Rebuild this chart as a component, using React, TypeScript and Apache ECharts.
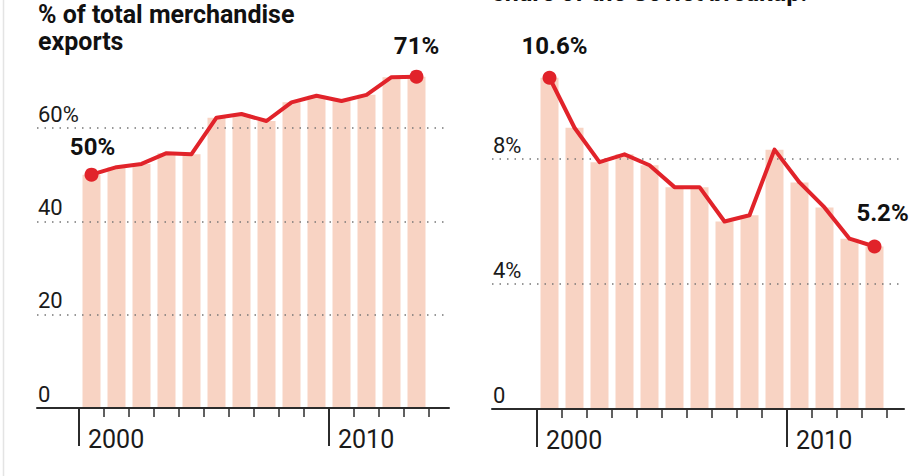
import React, { useEffect, useRef } from 'react';
import * as echarts from 'echarts';

// ---- data ----
const years = ['2000', '2001', '2002', '2003', '2004', '2005', '2006', '2007', '2008', '2009', '2010', '2011', '2012', '2013'];
const exportShare = [50, 51.6, 52.3, 54.6, 54.4, 62.2, 63, 61.5, 65.5, 66.9, 65.8, 67.1, 70.9, 71];
const rightShare = [10.6, 9.0, 7.9, 8.15, 7.8, 7.1, 7.1, 6.0, 6.2, 8.3, 7.25, 6.45, 5.45, 5.2];
const leftTickValues = [0, 20, 40, 60];
const leftTickLabels = ['0', '20', '40', '60%'];
const rightTickValues = [0, 4, 8];
const rightTickLabels = ['0', '4%', '8%'];
const majorYears = ['2000', '2010'];
const titleLines = ['% of total merchandise', 'exports'];
const rightTitleTail = 'share of the Soviet breakup.';

// ---- styles ----
const RED = '#e1232a';
const BAR = '#f8d3c3';
const INK = '#1a1a1a';
const AXIS = '#2b2b2b';
const FONT = 'Roboto, "Liberation Sans", sans-serif';

type PanelCfg = {
  values: number[];
  tickValues: number[];
  tickLabels: string[];
  decimals: number;
  frameLeft: number;
  frameRight: number;
  bandLeft: number;
  band: number;
  axisY: number;
  topTickY: number;
  barsMax: number;
  firstLabel: { d: number; dx: number };
  lastLabel: { d: number; dx: number };
};

const panels: PanelCfg[] = [
  {
    values: exportShare,
    tickValues: leftTickValues,
    tickLabels: leftTickLabels,
    decimals: 0,
    frameLeft: 37,
    frameRight: 449,
    bandLeft: 79,
    band: 25,
    axisY: 408,
    topTickY: 128,
    barsMax: 75,
    firstLabel: { d: 7, dx: 1 },
    lastLabel: { d: 10, dx: 0 },
  },
  {
    values: rightShare,
    tickValues: rightTickValues,
    tickLabels: rightTickLabels,
    decimals: 1,
    frameLeft: 492,
    frameRight: 904,
    bandLeft: 537,
    band: 25,
    axisY: 409,
    topTickY: 159,
    barsMax: 12,
    firstLabel: { d: 11, dx: 5 },
    lastLabel: { d: 13, dx: 8 },
  },
];

function buildOption() {
  const grid: any[] = [];
  const xAxis: any[] = [];
  const yAxis: any[] = [];
  const series: any[] = [];
  const majorIdx = majorYears.map((y) => years.indexOf(y));

  panels.forEach((p) => {
    const n = years.length;
    const topTick = p.tickValues[p.tickValues.length - 1];
    const pxPerUnit = (p.axisY - p.topTickY) / topTick;
    const gA = grid.length;
    grid.push({
      left: p.bandLeft,
      width: p.band * n,
      top: p.axisY - p.barsMax * pxPerUnit,
      height: p.barsMax * pxPerUnit,
      containLabel: false,
      outerBoundsMode: 'none',
    });
    const gB = grid.length;
    grid.push({
      left: p.frameLeft,
      width: p.frameRight - p.frameLeft,
      top: p.topTickY,
      height: p.axisY - p.topTickY,
      containLabel: false,
      outerBoundsMode: 'none',
    });

    const xCat = xAxis.length;
    xAxis.push({
      type: 'category',
      gridIndex: gA,
      position: 'bottom',
      data: years,
      boundaryGap: true,
      axisLine: { show: false },
      axisTick: { show: true, interval: 0, length: 9, lineStyle: { color: AXIS, width: 1.5 } },
      axisLabel: { show: false },
      splitLine: { show: false },
    });
    xAxis.push({
      type: 'value',
      gridIndex: gA,
      position: 'bottom',
      min: 0,
      max: n,
      axisLine: { show: false },
      splitLine: { show: false },
      axisTick: { show: true, customValues: majorIdx, length: 38, lineStyle: { color: AXIS, width: 2 } },
      axisLabel: {
        show: true,
        customValues: majorIdx,
        formatter: (v: number) => years[v] ?? '',
        align: 'left',
        padding: [0, 0, 0, 9],
        margin: 16,
        fontSize: 25,
        lineHeight: 30,
        color: INK,
        fontFamily: FONT,
        fontWeight: 'normal',
      },
    });
    xAxis.push({
      type: 'value',
      gridIndex: gB,
      position: 'bottom',
      min: 0,
      max: 1,
      axisLine: { show: true, lineStyle: { color: AXIS, width: 2 } },
      axisTick: { show: false },
      axisLabel: { show: false },
      splitLine: { show: false },
      z: 4,
    });

    const yA = yAxis.length;
    yAxis.push({ type: 'value', gridIndex: gA, min: 0, max: p.barsMax, show: false });
    yAxis.push({
      type: 'value',
      gridIndex: gB,
      position: 'left',
      min: 0,
      max: topTick,
      interval: p.tickValues[1] - p.tickValues[0],
      axisLine: { show: false },
      axisTick: { show: false },
      splitLine: { show: true, lineStyle: { color: '#777', width: 1.5, type: [1.5, 6] } },
      axisLabel: {
        inside: true,
        margin: 1,
        align: 'left',
        verticalAlign: 'bottom',
        lineHeight: 28,
        fontSize: 22,
        color: INK,
        fontFamily: FONT,
        fontWeight: 'normal',
        formatter: (v: number) => {
          const i = p.tickValues.indexOf(v);
          return i >= 0 ? p.tickLabels[i] : '';
        },
      },
      z: 3,
    });

    series.push({
      type: 'bar',
      xAxisIndex: xCat,
      yAxisIndex: yA,
      data: p.values,
      barWidth: 18,
      itemStyle: { color: BAR },
      z: 2,
      silent: true,
    });

    const last = p.values.length - 1;
    series.push({
      type: 'line',
      xAxisIndex: xCat,
      yAxisIndex: yA,
      symbol: 'circle',
      symbolSize: 0,
      showSymbol: true,
      lineStyle: { color: RED, width: 4, join: 'round', cap: 'round' },
      itemStyle: { color: RED },
      z: 5,
      label: { show: false },
      data: p.values.map((v, i) => {
        if (i !== 0 && i !== last) return { value: v };
        const l = i === 0 ? p.firstLabel : p.lastLabel;
        return {
          value: v,
          symbolSize: 14,
          label: {
            show: true,
            position: 'top',
            distance: l.d,
            offset: [l.dx, 0],
            formatter: (prm: any) => Number(prm.value).toFixed(p.decimals) + '%',
            fontSize: 24,
            lineHeight: 28,
            fontWeight: 'bold',
            color: '#111',
            fontFamily: FONT,
          },
        };
      }),
    });
  });

  const graphic: any[] = [
    {
      type: 'line',
      shape: { x1: 3.5, y1: 0, x2: 3.5, y2: 476 },
      style: { stroke: '#e4e4e4', lineWidth: 1.5 },
      silent: true,
    },
    ...titleLines.map((t, i) => ({
      type: 'text',
      x: 38,
      y: 14 + i * 27,
      style: {
        text: t,
        fill: '#111',
        font: `bold 25px ${FONT}`,
        verticalAlign: 'middle',
        align: 'left',
      },
      silent: true,
    })),
    {
      type: 'text',
      x: 492,
      y: -8,
      style: {
        text: rightTitleTail,
        fill: '#111',
        font: `bold 25px ${FONT}`,
        verticalAlign: 'middle',
        align: 'left',
      },
      silent: true,
    },
  ];

  return {
    animation: false,
    backgroundColor: '#ffffff',
    grid,
    xAxis,
    yAxis,
    series,
    graphic,
  };
}

export default function App() {
  const ref = useRef<HTMLDivElement>(null);
  useEffect(() => {
    if (!ref.current) return;
    const chart = echarts.init(ref.current, undefined, { renderer: 'svg' });
    chart.setOption(buildOption() as any);
    return () => chart.dispose();
  }, []);
  return (
    <div
      ref={ref}
      style={{ position: 'fixed', left: 0, top: 0, width: 924, height: 476, background: '#fff' }}
    />
  );
}
